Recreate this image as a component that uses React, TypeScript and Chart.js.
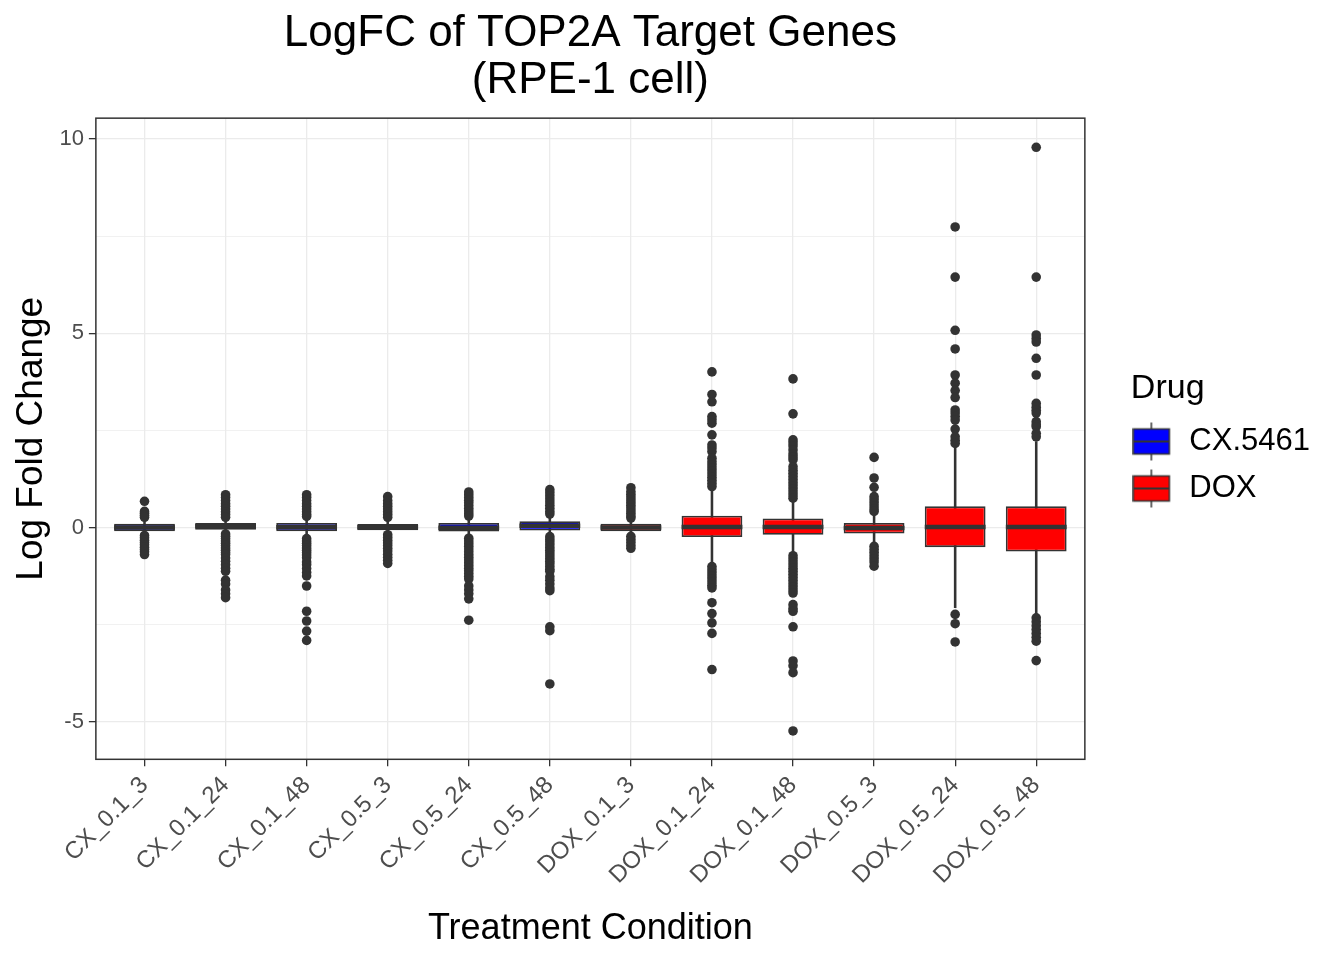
import React, { useEffect, useRef } from "react";
import { Chart, registerables } from "chart.js";

Chart.register(...registerables);

const categories = [
  "CX_0.1_3", "CX_0.1_24", "CX_0.1_48", "CX_0.5_3", "CX_0.5_24", "CX_0.5_48",
  "DOX_0.1_3", "DOX_0.1_24", "DOX_0.1_48", "DOX_0.5_3", "DOX_0.5_24", "DOX_0.5_48",
];
const drugOf = [
  "CX.5461", "CX.5461", "CX.5461", "CX.5461", "CX.5461", "CX.5461",
  "DOX", "DOX", "DOX", "DOX", "DOX", "DOX",
];
const drugNames = ["CX.5461", "DOX"];
const drugColors = ["#0000FF", "#FF0000"];

const whiskerLow = [-0.16, -0.12, -0.22, -0.15, -0.22, -0.18, -0.18, -0.95, -0.7, -0.42, -2.06, -2.28];
const q1 = [-0.093, -0.05, -0.093, -0.067, -0.095, -0.07, -0.093, -0.24, -0.18, -0.15, -0.5, -0.61];
const median = [0.005, 0.04, 0.014, 0.015, 0.0, 0.05, 0.005, 0.02, 0.02, -0.01, 0.02, 0.02];
const q3 = [0.105, 0.12, 0.12, 0.095, 0.12, 0.165, 0.105, 0.31, 0.24, 0.12, 0.55, 0.55];
const whiskerHigh = [0.2, 0.22, 0.25, 0.22, 0.25, 0.3, 0.22, 1.0, 0.72, 0.38, 2.09, 2.22];

const outliers: number[][] = [
  [0.68, 0.42, 0.37, 0.32, 0.27, -0.2, -0.26, -0.32, -0.38, -0.44, -0.5, -0.56, -0.62, -0.69],
  [0.85, 0.78, 0.7, 0.62, 0.55, 0.48, 0.41, 0.34, 0.27, -0.16, -0.22, -0.28, -0.34, -0.4, -0.46, -0.52,
    -0.58, -0.64, -0.69, -0.78, -0.86, -0.95, -1.04, -1.12, -1.35, -1.45, -1.6, -1.7, -1.8],
  [0.85, 0.78, 0.7, 0.62, 0.55, 0.48, 0.41, 0.34, 0.29, -0.28, -0.34, -0.4, -0.46, -0.52, -0.58, -0.64,
    -0.7, -0.77, -0.88, -0.95, -1.05, -1.15, -1.24, -1.5, -2.15, -2.4, -2.66, -2.9],
  [0.8, 0.7, 0.62, 0.55, 0.48, 0.41, 0.34, 0.27, -0.18, -0.25, -0.32, -0.39, -0.46, -0.53, -0.6, -0.68,
    -0.76, -0.84, -0.92],
  [0.92, 0.85, 0.78, 0.71, 0.64, 0.57, 0.5, 0.43, 0.36, 0.3, -0.27, -0.34, -0.41, -0.48, -0.55, -0.62,
    -0.69, -0.76, -0.83, -0.9, -0.97, -1.04, -1.11, -1.18, -1.25, -1.32, -1.5, -1.6, -1.7, -1.83, -2.38],
  [0.98, 0.9, 0.82, 0.74, 0.66, 0.58, 0.5, 0.42, 0.35, -0.23, -0.3, -0.37, -0.44, -0.51, -0.58, -0.65,
    -0.72, -0.79, -0.86, -0.93, -1.0, -1.07, -1.12, -1.26, -1.35, -1.45, -1.55, -1.62, -2.55, -2.65, -4.02],
  [1.03, 0.93, 0.86, 0.79, 0.72, 0.65, 0.58, 0.51, 0.44, 0.37, 0.3, 0.25, -0.22, -0.3, -0.38, -0.46, -0.53],
  [4.01, 3.43, 3.24, 2.86, 2.78, 2.69, 2.39, 2.13, 2.05, 1.96, 1.79, 1.7, 1.62, 1.54, 1.46, 1.38, 1.3,
    1.22, 1.14, 1.06, -1.0, -1.08, -1.16, -1.24, -1.32, -1.4, -1.48, -1.55, -1.93, -2.21, -2.45, -2.72, -3.65],
  [3.83, 2.93, 2.26, 2.18, 2.1, 2.0, 1.9, 1.82, 1.75, 1.57, 1.48, 1.4, 1.32, 1.24, 1.16, 1.08, 1.0, 0.92,
    0.84, 0.76, -0.72, -0.8, -0.88, -0.96, -1.04, -1.12, -1.2, -1.28, -1.36, -1.44, -1.52, -1.6, -1.68,
    -1.98, -2.08, -2.15, -2.55, -3.43, -3.55, -3.73, -5.23],
  [1.81, 1.28, 1.04, 0.8, 0.72, 0.64, 0.56, 0.48, 0.42, -0.48, -0.56, -0.64, -0.72, -0.8, -0.88, -0.99],
  [7.74, 6.45, 5.08, 4.6, 3.93, 3.72, 3.53, 3.35, 3.03, 2.95, 2.86, 2.77, 2.54, 2.34, 2.25, 2.17,
    -2.23, -2.47, -2.94],
  [9.79, 6.45, 4.96, 4.87, 4.78, 4.36, 3.93, 3.2, 3.1, 3.02, 2.95, 2.73, 2.65, 2.6, 2.43, 2.34,
    -2.32, -2.42, -2.52, -2.62, -2.72, -2.82, -2.92, -3.42],
];

const yMajorTicks = [-5, 0, 5, 10];
const yMinorTicks = [-2.5, 2.5, 7.5];

const FONT = "'Liberation Sans', Arial, Helvetica, sans-serif";
const DARK = "#333333";
const GRID = "#EBEBEB";

// Legend key: whisker, box and median, drawn to the left part of a wider canvas
function makeKeyIcon(fill: string): HTMLCanvasElement {
  const c = document.createElement("canvas");
  c.width = 56;
  c.height = 40;
  const g = c.getContext("2d")!;
  g.strokeStyle = DARK;
  g.lineWidth = 1.5;
  g.beginPath();
  g.moveTo(19, 1);
  g.lineTo(19, 39);
  g.stroke();
  g.fillStyle = fill;
  g.fillRect(1, 7.5, 36, 25);
  g.strokeRect(1, 7.5, 36, 25);
  g.lineWidth = 2;
  g.beginPath();
  g.moveTo(1, 20);
  g.lineTo(37, 20);
  g.stroke();
  return c;
}

const panelBorder = {
  id: "panelBorder",
  afterDatasetsDraw(chart: any) {
    const { ctx, chartArea: a } = chart;
    ctx.save();
    ctx.strokeStyle = DARK;
    ctx.lineWidth = 1.5;
    ctx.strokeRect(a.left, a.top, a.right - a.left, a.bottom - a.top);
    ctx.restore();
  },
};

export default function App() {
  const ref = useRef<HTMLCanvasElement | null>(null);

  useEffect(() => {
    if (!ref.current) return;
    const idx = categories.map((_, i) => i);
    const boxColors = idx.map((i) => drugColors[drugNames.indexOf(drugOf[i])]);
    const icons = drugColors.map((c) => makeKeyIcon(c));
    const halfBox = (ctx: any) => {
      const s = ctx.chart.scales.x;
      return Math.abs(s.getPixelForValue(1) - s.getPixelForValue(0)) * 0.375;
    };
    const isMajor = (v: number) => yMajorTicks.includes(v);

    const chart = new Chart(ref.current, {
      type: "bar",
      data: {
        datasets: [
          {
            type: "line",
            label: "median",
            data: idx.map((i) => ({ x: i, y: median[i] })),
            showLine: false,
            pointStyle: "line",
            pointRadius: halfBox,
            pointBorderWidth: 4.5,
            pointBorderColor: DARK,
            pointBackgroundColor: DARK,
            order: 0,
          } as any,
          {
            type: "line",
            label: "outliers",
            data: outliers.flatMap((arr, i) => arr.map((y) => ({ x: i, y }))),
            showLine: false,
            pointStyle: "circle",
            pointRadius: 4.8,
            pointBorderWidth: 0,
            pointBackgroundColor: DARK,
            pointBorderColor: DARK,
            order: 1,
          } as any,
          {
            type: "bar",
            label: "box",
            data: idx.map((i) => ({ x: i, y: [q1[i], q3[i]] })),
            backgroundColor: boxColors,
            borderColor: DARK,
            borderWidth: 1.8,
            borderSkipped: false,
            grouped: false,
            barPercentage: 0.75,
            categoryPercentage: 1,
            order: 2,
          } as any,
          {
            type: "bar",
            label: "whisker",
            data: idx.map((i) => ({ x: i, y: [whiskerLow[i], whiskerHigh[i]] })),
            backgroundColor: DARK,
            borderWidth: 0,
            grouped: false,
            maxBarThickness: 1.9,
            barPercentage: 1,
            categoryPercentage: 1,
            order: 3,
          } as any,
        ],
      },
      options: {
        animation: false,
        responsive: true,
        maintainAspectRatio: false,
        events: [],
        layout: { padding: { left: 3, right: 24, top: 0, bottom: 8 } },
        scales: {
          x: {
            type: "linear",
            min: -0.6,
            max: 11.6,
            offset: false,
            afterBuildTicks: (axis: any) => {
              axis.ticks = idx.map((i) => ({ value: i }));
            },
            ticks: {
              autoSkip: false,
              minRotation: 45,
              maxRotation: 45,
              padding: 5,
              color: "#4D4D4D",
              font: { family: FONT, size: 24 },
              callback: (v: any) => categories[v as number] ?? "",
            },
            grid: {
              offset: false,
              color: GRID,
              lineWidth: 1.3,
              tickColor: DARK,
              tickLength: 7,
              tickWidth: 1.3,
            },
            border: { display: false },
            title: {
              display: true,
              text: "Treatment Condition",
              color: "#000000",
              font: { family: FONT, size: 36 },
              padding: { top: 13, bottom: 1 },
            },
          },
          y: {
            type: "linear",
            min: -5.96,
            max: 10.54,
            afterBuildTicks: (axis: any) => {
              axis.ticks = [...yMajorTicks, ...yMinorTicks].sort((a, b) => a - b).map((v) => ({ value: v }));
            },
            ticks: {
              padding: 5,
              color: "#4D4D4D",
              font: { family: FONT, size: 22 },
              callback: (v: any) => (isMajor(v as number) ? String(v) : ""),
            },
            grid: {
              color: GRID,
              lineWidth: (c: any) => (c.tick && isMajor(c.tick.value) ? 1.3 : 0.7),
              tickColor: (c: any) => (c.tick && isMajor(c.tick.value) ? DARK : "rgba(0,0,0,0)"),
              tickLength: 7,
              tickWidth: 1.3,
            },
            border: { display: false },
            title: {
              display: true,
              text: "Log Fold Change",
              color: "#000000",
              font: { family: FONT, size: 37 },
              padding: { top: 7, bottom: 0 },
            },
          },
          gap: {
            type: "linear",
            position: "right",
            display: true,
            grid: { display: false },
            ticks: { display: false },
            border: { display: false },
            afterFit: (s: any) => {
              s.width = 46;
            },
          },
        },
        plugins: {
          tooltip: { enabled: false },
          title: {
            display: true,
            fullSize: false,
            text: ["LogFC of TOP2A Target Genes", "(RPE-1 cell)"],
            color: "#000000",
            font: { family: FONT, size: 44, weight: "normal", lineHeight: 1.07 },
            padding: { top: 10, bottom: 14 },
          },
          legend: {
            display: true,
            position: "right",
            align: "center",
            fullSize: false,
            title: {
              display: true,
              text: "Drug",
              color: "#000000",
              position: "start",
              font: { family: FONT, size: 34, lineHeight: 1.0 },
              padding: { top: 14, bottom: 4.5 },
            },
            labels: {
              usePointStyle: true,
              pointStyleWidth: 27,
              padding: 16,
              color: "#000000",
              font: { family: FONT, size: 31 },
              generateLabels: () =>
                drugNames.map((d, i) => ({
                  text: d,
                  fillStyle: drugColors[i],
                  strokeStyle: DARK,
                  lineWidth: 0,
                  hidden: false,
                  pointStyle: icons[i] as any,
                  fontColor: "#000000",
                })),
            },
          },
        },
      } as any,
      plugins: [panelBorder],
    });
    return () => chart.destroy();
  }, []);

  return (
    <div style={{ position: "fixed", left: 0, top: 0, width: 1344, height: 960, background: "#ffffff" }}>
      <canvas ref={ref} />
    </div>
  );
}
